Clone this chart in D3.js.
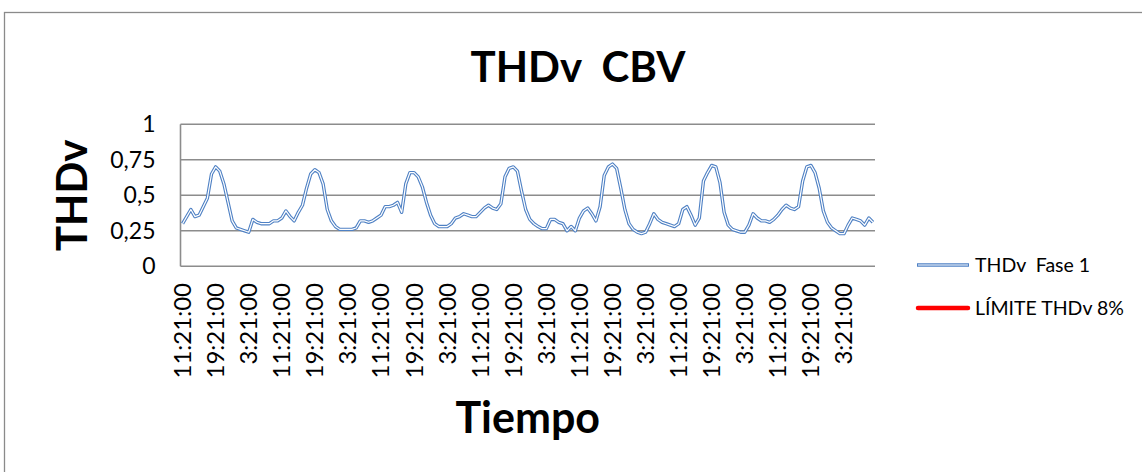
<!DOCTYPE html>
<html>
<head>
<meta charset="utf-8">
<script src="https://cdn.jsdelivr.net/npm/d3@7"></script>
<style>
  html, body { margin: 0; padding: 0; background: #fff; }
  svg { display: block; font-family: Lato, "Open Sans", sans-serif; }
  text { white-space: pre; }
</style>
</head>
<body>
<svg id="chart" width="1142" height="472"></svg>
<script>
// Hourly THDv readings, phase 1, starting at 11:21:00
const thdvFase1 = [
  0.30, 0.35, 0.40, 0.35, 0.36, 0.42, 0.48, 0.65, 0.70, 0.67, 0.58, 0.45,
  0.32, 0.27, 0.26, 0.25, 0.24, 0.33, 0.31, 0.30, 0.30, 0.30, 0.32, 0.32,
  0.34, 0.39, 0.35, 0.32, 0.38, 0.43, 0.55, 0.65, 0.68, 0.66, 0.58, 0.40,
  0.32, 0.28, 0.26, 0.26, 0.26, 0.26, 0.27, 0.32, 0.32, 0.31, 0.32, 0.34,
  0.36, 0.42, 0.42, 0.43, 0.45, 0.38, 0.58, 0.66, 0.66, 0.63, 0.56, 0.45,
  0.36, 0.30, 0.28, 0.28, 0.28, 0.30, 0.34, 0.35, 0.37, 0.36, 0.35, 0.35,
  0.38, 0.41, 0.43, 0.41, 0.40, 0.44, 0.63, 0.69, 0.70, 0.67, 0.53, 0.40,
  0.33, 0.30, 0.28, 0.265, 0.265, 0.33, 0.33, 0.31, 0.30, 0.25, 0.28, 0.25,
  0.34, 0.39, 0.41, 0.37, 0.32, 0.42, 0.64, 0.70, 0.72, 0.69, 0.55, 0.40,
  0.30, 0.26, 0.24, 0.23, 0.24, 0.30, 0.37, 0.33, 0.31, 0.30, 0.29, 0.28,
  0.30, 0.40, 0.42, 0.36, 0.29, 0.34, 0.60, 0.66, 0.71, 0.70, 0.59, 0.38,
  0.29, 0.26, 0.25, 0.24, 0.24, 0.29, 0.37, 0.34, 0.32, 0.32, 0.31, 0.33,
  0.36, 0.40, 0.43, 0.41, 0.40, 0.42, 0.60, 0.70, 0.71, 0.66, 0.55, 0.39,
  0.31, 0.27, 0.25, 0.23, 0.23, 0.29, 0.34, 0.33, 0.32, 0.29, 0.34, 0.31
];

// Limit series (8 %), shown in the legend
const limiteTHDv = thdvFase1.map(() => 8);

// Timestamps for each reading (one per hour from 11:21:00)
const startHour = 11;
const times = thdvFase1.map((_, i) => `${(startHour + i) % 24}:21:00`);

// Axis tick labels
const yTicks = [0, 0.25, 0.5, 0.75, 1];
const yTickLabels = ["0", "0,25", "0,5", "0,75", "1"];
const xTickLabels = [
  "11:21:00", "19:21:00", "3:21:00", "11:21:00", "19:21:00", "3:21:00",
  "11:21:00", "19:21:00", "3:21:00", "11:21:00", "19:21:00", "3:21:00",
  "11:21:00", "19:21:00", "3:21:00", "11:21:00", "19:21:00", "3:21:00",
  "11:21:00", "19:21:00", "3:21:00"
];
const xTickEvery = 8;

const svg = d3.select("#chart");

// Chart frame
svg.append("rect")
  .attr("x", 4.5).attr("y", 12.5)
  .attr("width", 1160).attr("height", 480)
  .attr("fill", "#fff").attr("stroke", "#8a8a8a").attr("stroke-width", 1.3);

const plot = { left: 180.5, right: 875, top: 124.3, bottom: 266.3 };

const x = d3.scaleBand()
  .domain(d3.range(thdvFase1.length))
  .range([plot.left, plot.right]);
const xc = i => x(i) + x.bandwidth() / 2;

const y = d3.scaleLinear().domain([0, 1]).range([plot.bottom, plot.top]);

// Horizontal gridlines
svg.append("g")
  .selectAll("line")
  .data(yTicks)
  .join("line")
  .attr("x1", plot.left).attr("x2", plot.right)
  .attr("y1", d => y(d)).attr("y2", d => y(d))
  .attr("stroke", "#8c8c8c").attr("stroke-width", 1.6);

// Vertical axis line
svg.append("line")
  .attr("x1", plot.left).attr("x2", plot.left)
  .attr("y1", y(1)).attr("y2", y(0))
  .attr("stroke", "#8c8c8c").attr("stroke-width", 1.6);

// Y axis labels
const yAxis = d3.axisLeft(y)
  .tickValues(yTicks)
  .tickFormat((d, i) => yTickLabels[i])
  .tickSize(0)
  .tickPadding(25);
const gy = svg.append("g").attr("transform", `translate(${plot.left},0)`).call(yAxis);
gy.select(".domain").remove();
gy.selectAll("text")
  .attr("font-family", "Lato, sans-serif")
  .attr("font-size", 23)
  .attr("fill", "#000");

// X axis labels, rotated
const xTickIdx = d3.range(0, thdvFase1.length, xTickEvery);
svg.append("g")
  .selectAll("text")
  .data(xTickIdx)
  .join("text")
  .attr("transform", d => `translate(${xc(d) + 8.5},283) rotate(-90)`)
  .attr("text-anchor", "end")
  .attr("font-size", 24)
  .attr("fill", "#000")
  .text((d, i) => xTickLabels[i]);

// Data line: blue double stroke
const line = d3.line()
  .x((d, i) => xc(i))
  .y(d => y(d));

svg.append("clipPath").attr("id", "plotClip")
  .append("rect")
  .attr("x", plot.left).attr("y", plot.top - 5)
  .attr("width", plot.right - plot.left + 5).attr("height", plot.bottom - plot.top + 10);

const series = svg.append("g").attr("clip-path", "url(#plotClip)");
series.append("path")
  .datum(limiteTHDv)
  .attr("d", line)
  .attr("fill", "none").attr("stroke", "#ff0000").attr("stroke-width", 4.5);
series.append("path")
  .datum(thdvFase1)
  .attr("d", line)
  .attr("fill", "none").attr("stroke", "#4f81c4").attr("stroke-width", 3.4)
  .attr("stroke-linejoin", "round");
series.append("path")
  .datum(thdvFase1)
  .attr("d", line)
  .attr("fill", "none").attr("stroke", "#ffffff").attr("stroke-width", 1.2)
  .attr("stroke-linejoin", "round");

// Titles
svg.append("text")
  .attr("x", 578).attr("y", 82)
  .attr("text-anchor", "middle")
  .attr("font-weight", "bold").attr("font-size", 42)
  .text("THDv  CBV");

svg.append("text")
  .attr("transform", `translate(87,${(plot.top + plot.bottom) / 2}) rotate(-90)`)
  .attr("text-anchor", "middle")
  .attr("font-weight", "bold").attr("font-size", 42)
  .text("THDv");

svg.append("text")
  .attr("x", (plot.left + plot.right) / 2).attr("y", 433)
  .attr("text-anchor", "middle")
  .attr("font-weight", "bold").attr("font-size", 43)
  .text("Tiempo");

// Legend
const legend = svg.append("g");
const legItems = [
  { name: "THDv  Fase 1", y: 265, type: "double" },
  { name: "LÍMITE THDv 8%", y: 308, type: "limit" }
];
legItems.forEach(item => {
  if (item.type === "double") {
    legend.append("line").attr("x1", 917).attr("x2", 969).attr("y1", item.y).attr("y2", item.y)
      .attr("stroke", "#4f81c4").attr("stroke-width", 3.4);
    legend.append("line").attr("x1", 918).attr("x2", 968).attr("y1", item.y).attr("y2", item.y)
      .attr("stroke", "#fff").attr("stroke-width", 1.2);
  } else {
    legend.append("line").attr("x1", 918).attr("x2", 968).attr("y1", item.y).attr("y2", item.y)
      .attr("stroke", "#ff0000").attr("stroke-width", 4.5).attr("stroke-linecap", "round");
  }
  legend.append("text")
    .attr("x", 975).attr("y", item.y).attr("dy", "0.35em")
    .attr("font-size", 19.5).attr("fill", "#000")
    .text(item.name);
});
</script>
</body>
</html>
